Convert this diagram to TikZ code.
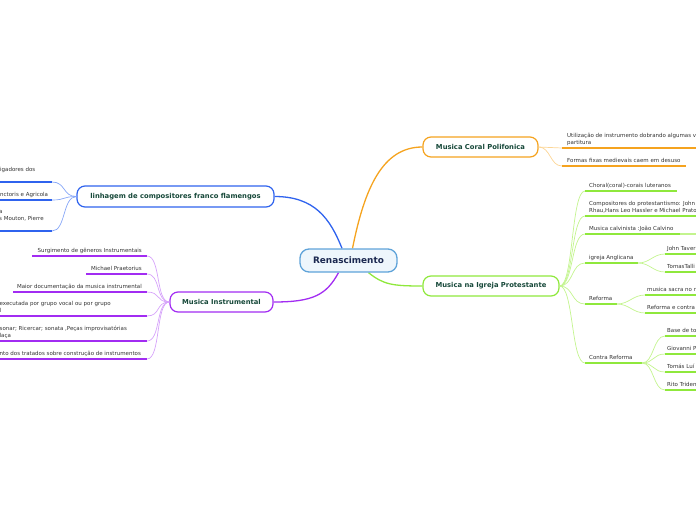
\documentclass[tikz,border=0pt]{standalone}
\usepackage{fontspec}
\setmainfont{DejaVu Sans}
\usetikzlibrary{backgrounds}
\definecolor{cOrange}{HTML}{F5A31F}
\definecolor{cOrangeL}{HTML}{FCD595}
\definecolor{cGreen}{HTML}{8FE83C}
\definecolor{cGreenL}{HTML}{C3F48E}
\definecolor{cBlue}{HTML}{2F63EE}
\definecolor{cBlueL}{HTML}{86A6F7}
\definecolor{cPurple}{HTML}{A22CF2}
\definecolor{cPurpleL}{HTML}{D6A3FA}
\definecolor{cRoot}{HTML}{5FA3D9}
\definecolor{cRootFill}{HTML}{EEF6FC}
\definecolor{cNavy}{HTML}{1B2850}
\definecolor{cLabel}{HTML}{17493A}
\definecolor{cLeaf}{HTML}{333333}
\begin{document}
\begin{tikzpicture}[x=1pt,y=-1pt,
  rootbox/.style={draw=cRoot, fill=cRootFill, line width=1.3pt, rounded corners=9pt, minimum width=97pt, minimum height=23pt, inner sep=0pt, font=\fontsize{8.9}{10}\selectfont\bfseries, text=cNavy},
  mainbox/.style={fill=white, line width=1.2pt, rounded corners=8pt, minimum height=20pt, inner sep=0pt, font=\fontsize{6.8}{8}\selectfont\bfseries, text=cLabel},
  leaf/.style={inner sep=0pt, yshift=-0.8pt, font=\fontsize{5.5}{7}\selectfont, text=cLeaf, align=left},
  branch/.style={line width=1.3pt},
  link/.style={line width=0.7pt},
  uline/.style={line width=1.6pt},
]
\useasboundingbox (0,0) rectangle (696,520);
\clip (0,0) rectangle (696,520);

% main nodes
\node[rootbox] (root) at (348.5,260.5) {Renascimento};
\node[mainbox, draw=cOrange, minimum width=115pt] (coral) at (480.5,147) {Musica Coral Polifonica};
\node[mainbox, draw=cGreen, minimum width=136pt] (igreja) at (491,286) {Musica na Igreja Protestante};
\node[mainbox, draw=cBlue, minimum width=197pt, minimum height=21pt] (linh) at (175.5,196.5) {linhagem de compositores franco flamengos};
\node[mainbox, draw=cPurple, minimum width=103pt] (instr) at (221.5,302) {Musica Instrumental};

\begin{pgfonlayer}{background}
\draw[branch, cOrange] ([xshift=4pt]root.north) .. controls +(12,-60) and +(-40,0) .. (coral.west);
\draw[branch, cBlue] ([xshift=-6.5pt]root.north) .. controls +(-12,-30) and +(40,0) .. (linh.east);
\draw[branch, cPurple] ([xshift=-10pt]root.south) .. controls +(-12,22) and +(40,0) .. (instr.east);
\draw[branch, cGreen] ([xshift=20pt]root.south) .. controls +(15,12) and +(-30,0) .. (igreja.west);
\end{pgfonlayer}

% ---------- orange leaves
\coordinate (o1) at (562,148);
\coordinate (o2) at (562,166);
\coordinate (o1e) at (700,148);
\coordinate (o2e) at (686,166);
\draw[link, cOrangeL] (coral.east) .. controls +(12,0) and +(-12,0) .. (o1);
\draw[link, cOrangeL] (coral.east) .. controls +(12,0) and +(-12,0) .. (o2);
\draw[uline, cOrange] (o1) -- (o1e);
\draw[uline, cOrange] (o2) -- (o2e);
\node[leaf, anchor=south west] (ot1) at (567,146) {Utilização de instrumento dobrando algumas v\\partitura\strut};
\node[leaf, anchor=south west] (ot2) at (567,164) {Formas fixas medievais caem em desuso\strut};

% ---------- green leaves
\coordinate (g1) at (585,191);  \coordinate (g1e) at (677,191);
\coordinate (g2) at (585,216);  \coordinate (g2e) at (700,216);
\coordinate (g3) at (585,234);  \coordinate (g3e) at (680,234); \coordinate (g3x) at (700,234);
\coordinate (g4) at (585,263);  \coordinate (g4e) at (638,263);
\coordinate (g5) at (585,304);  \coordinate (g5e) at (617,304);
\coordinate (g6) at (585,363);  \coordinate (g6e) at (642,363);
\foreach \c in {g1,g2,g3,g4,g5,g6}
  \draw[link, cGreenL] (igreja.east) .. controls +(14,0) and +(-14,0) .. (\c);
\draw[uline, cGreen] (g1) -- (g1e);
\draw[uline, cGreen] (g2) -- (g2e);
\draw[uline, cGreen] (g3) -- (g3e);
\draw[uline, cGreenL] (g3e) -- (g3x);
\draw[uline, cGreen] (g4) -- (g4e);
\draw[uline, cGreen] (g5) -- (g5e);
\draw[uline, cGreen] (g6) -- (g6e);
\node[leaf, anchor=south west] (gt1) at (589,189) {Choral(coral)-corais luteranos\strut};
\node[leaf, anchor=south west] (gt2) at (589,214) {Compositores do protestantismo: John\\Rhau,Hans Leo Hassler e Michael Prato\strut};
\node[leaf, anchor=south west] (gt3) at (589,232) {Musica calvinista :João Calvino\strut};
\node[leaf, anchor=south west] (gt4) at (589,261) {igreja Anglicana\strut};
\node[leaf, anchor=south west] (gt5) at (589,302) {Reforma\strut};
\node[leaf, anchor=south west] (gt6) at (589,361) {Contra Reforma\strut};

% anglicana children
\coordinate (a1) at (665,254); \coordinate (a1e) at (700,254);
\coordinate (a2) at (665,272); \coordinate (a2e) at (700,272);
\foreach \c in {a1,a2}
  \draw[link, cGreenL] (g4e) .. controls +(12,0) and +(-12,0) .. (\c);
\draw[uline, cGreen] (a1) -- (a1e);
\draw[uline, cGreen] (a2) -- (a2e);
\node[leaf, anchor=south west] (at1) at (667,252) {John Taver\strut};
\node[leaf, anchor=south west] (at2) at (667,270) {TomasTalli\strut};

% reforma children
\coordinate (r1) at (645,295); \coordinate (r1e) at (700,295);
\coordinate (r2) at (645,313); \coordinate (r2e) at (700,313);
\foreach \c in {r1,r2}
  \draw[link, cGreenL] (g5e) .. controls +(12,0) and +(-12,0) .. (\c);
\draw[uline, cGreen] (r1) -- (r1e);
\draw[uline, cGreen] (r2) -- (r2e);
\node[leaf, anchor=south west] (rt1) at (647,293) {musica sacra no n\strut};
\node[leaf, anchor=south west] (rt2) at (647,311) {Reforma e contra\strut};

% contra reforma children
\coordinate (c1) at (665,336); \coordinate (c1e) at (700,336);
\coordinate (c2) at (665,354); \coordinate (c2e) at (700,354);
\coordinate (c3) at (665,372); \coordinate (c3e) at (700,372);
\coordinate (c4) at (665,390); \coordinate (c4e) at (700,390);
\foreach \c in {c1,c2,c3,c4}
  \draw[link, cGreenL] (g6e) .. controls +(12,0) and +(-12,0) .. (\c);
\draw[uline, cGreen] (c1) -- (c1e);
\draw[uline, cGreen] (c2) -- (c2e);
\draw[uline, cGreen] (c3) -- (c3e);
\draw[uline, cGreen] (c4) -- (c4e);
\node[leaf, anchor=south west] (ct1) at (667,334) {Base de to\strut};
\node[leaf, anchor=south west] (ct2) at (667,352) {Giovanni P\strut};
\node[leaf, anchor=south west] (ct3) at (667,370) {Tomás Luí\strut};
\node[leaf, anchor=south west] (ct4) at (667,388) {Rito Triden\strut};

% ---------- blue leaves
\coordinate (b1) at (52,182);  \coordinate (b1e) at (-5,182);
\coordinate (b2) at (52,200);  \coordinate (b2e) at (-5,200);
\coordinate (b3) at (52,231);  \coordinate (b3e) at (-5,231);
\foreach \c in {b1,b2,b3}
  \draw[link, cBlueL] (linh.west) .. controls +(-14,0) and +(14,0) .. (\c);
\draw[uline, cBlue] (b1) -- (b1e);
\draw[uline, cBlue] (b2) -- (b2e);
\draw[uline, cBlue] (b3) -- (b3e);
\node[leaf, anchor=south west] (bt1) at (0,172.5) {igadores dos\strut};
\node[leaf, anchor=south west] (bt2) at (0,198) {nctoris e Agricola\strut};
\node[leaf, anchor=south west] (bt3) at (-1,221.5) {a\\s Mouton, Pierre\strut};

% ---------- purple leaves
\coordinate (p1) at (147,256);  \coordinate (p1e) at (32,256);
\coordinate (p2) at (147,274);  \coordinate (p2e) at (86,274);
\coordinate (p3) at (147,292);  \coordinate (p3e) at (13,292);
\coordinate (p4) at (147,316);  \coordinate (p4e) at (-5,316);
\coordinate (p5) at (147,341);  \coordinate (p5e) at (-5,341);
\coordinate (p6) at (147,359);  \coordinate (p6e) at (-5,359);
\foreach \c in {p1,p2,p3,p4,p5,p6}
  \draw[link, cPurpleL] (instr.west) .. controls +(-14,0) and +(14,0) .. (\c);
\foreach \c in {p1,p2,p3,p4,p5,p6}
  \draw[uline, cPurple] (\c) -- (\c e);
\node[leaf, anchor=south east] (pt1) at (142,254) {Surgimento de gêneros Instrumentais\strut};
\node[leaf, anchor=south east] (pt2) at (142,272) {Michael Praetorius\strut};
\node[leaf, anchor=south east] (pt3) at (142,290) {Maior documentação da musica instrumental\strut};
\node[leaf, anchor=south west] (pt4) at (-0.5,314) {executada por grupo vocal ou por grupo\\l\strut};
\node[leaf, anchor=south west] (pt5) at (-0.5,339) {sonar; Ricercar; sonata ,Peças improvisatórias\\laça\strut};
\node[leaf, anchor=south west] (pt6) at (-0.5,357) {nto dos tratados sobre construção de instrumentos\strut};
\end{tikzpicture}
\end{document}
